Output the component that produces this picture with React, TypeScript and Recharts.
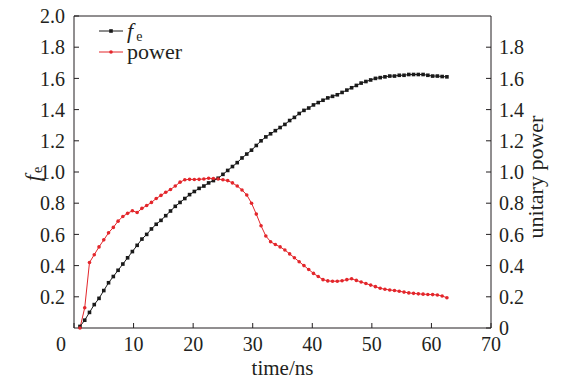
import React from "react";
import { LineChart, Line, XAxis, YAxis, Legend, ReferenceLine } from "recharts";

// time in ns
const time = [
  1.0, 1.8, 2.6, 3.4, 4.2, 5.0, 5.8, 6.6, 7.4, 8.2,
  9.0, 9.8, 10.6, 11.4, 12.2, 13.0, 13.8, 14.6, 15.4, 16.2,
  17.0, 17.8, 18.6, 19.4, 20.2, 21.0, 21.8, 22.6, 23.4, 24.2,
  25.0, 25.8, 26.6, 27.4, 28.2, 29.0, 29.8, 30.6, 31.4, 32.2,
  33.0, 33.8, 34.6, 35.4, 36.2, 37.0, 37.8, 38.6, 39.4, 40.2,
  41.0, 41.8, 42.6, 43.4, 44.2, 45.0, 45.8, 46.6, 47.4, 48.2,
  49.0, 49.8, 50.6, 51.4, 52.2, 53.0, 53.8, 54.6, 55.4, 56.2,
  57.0, 57.8, 58.6, 59.4, 60.2, 61.0, 61.8, 62.6,
];

const fe = [
  0.01, 0.05, 0.1, 0.15, 0.19, 0.24, 0.29, 0.33, 0.37, 0.41,
  0.45, 0.49, 0.53, 0.57, 0.6, 0.635, 0.665, 0.69, 0.72, 0.75,
  0.78, 0.805, 0.83, 0.855, 0.875, 0.895, 0.91, 0.93, 0.945, 0.96,
  0.985, 1.01, 1.035, 1.06, 1.09, 1.115, 1.14, 1.17, 1.2, 1.225,
  1.245, 1.265, 1.285, 1.305, 1.33, 1.35, 1.375, 1.395, 1.41, 1.43,
  1.445, 1.46, 1.475, 1.485, 1.495, 1.51, 1.525, 1.54, 1.555, 1.57,
  1.58, 1.59, 1.6, 1.605, 1.61, 1.615, 1.615, 1.62, 1.62, 1.625,
  1.625, 1.625, 1.625, 1.62, 1.615, 1.615, 1.612, 1.61,
];

const power = [
  0.0, 0.13, 0.42, 0.47, 0.52, 0.565, 0.61, 0.645, 0.685, 0.715,
  0.735, 0.752, 0.74, 0.767, 0.785, 0.805, 0.83, 0.85, 0.87, 0.888,
  0.91, 0.935, 0.95, 0.953, 0.952, 0.953, 0.955, 0.96, 0.958, 0.955,
  0.95, 0.945, 0.93, 0.91, 0.885, 0.853, 0.8, 0.73, 0.655, 0.59,
  0.553, 0.535, 0.52, 0.5, 0.475, 0.45, 0.425, 0.4, 0.375, 0.35,
  0.33, 0.31, 0.302, 0.3, 0.3, 0.303, 0.31, 0.316, 0.305, 0.295,
  0.285, 0.275, 0.265, 0.255, 0.248, 0.244, 0.24, 0.236, 0.23, 0.225,
  0.222, 0.219, 0.217, 0.215, 0.214, 0.212, 0.205, 0.194,
];

const xTicks = [0, 10, 20, 30, 40, 50, 60, 70];
const leftTicks = [0.2, 0.4, 0.6, 0.8, 1.0, 1.2, 1.4, 1.6, 1.8, 2.0];
const rightTicks = [0, 0.2, 0.4, 0.6, 0.8, 1.0, 1.2, 1.4, 1.6, 1.8];

const data = time.map((t, i) => ({ t, fe: fe[i], power: power[i] }));

const ink = "#231f20";
const black = "#1a1a1a";
const red = "#e3262b";
const font = "Liberation Serif, serif";
const tickStyle = { fill: ink, fontSize: 20, fontFamily: font };

const XTick = (props: any) => {
  const { x, y, payload } = props;
  const shift = payload.value === 0 ? -13 : 0;
  return (
    <text x={x + shift} y={y} dy="0.71em" textAnchor="middle" fill={ink} fontSize={20} fontFamily={font}>
      {payload.value}
    </text>
  );
};

const LegendBox = () => (
  <div style={{ fontFamily: font, color: ink }}>
    <div style={{ display: "flex", alignItems: "center", height: 20 }}>
      <svg width={24} height={10} style={{ marginRight: 4 }}>
        <line x1={0} y1={5} x2={24} y2={5} stroke={black} strokeWidth={1} />
        <rect x={10.2} y={3.2} width={3.6} height={3.6} fill={black} />
      </svg>
      <span style={{ fontSize: 22, fontStyle: "italic" }}>f</span>
      <span style={{ fontSize: 14, position: "relative", top: 6, marginLeft: 3 }}>e</span>
    </div>
    <div style={{ display: "flex", alignItems: "center", height: 20, marginTop: 1 }}>
      <svg width={24} height={10} style={{ marginRight: 4 }}>
        <line x1={0} y1={5} x2={24} y2={5} stroke={red} strokeWidth={1} />
        <circle cx={12} cy={5} r={1.8} fill={red} />
      </svg>
      <span style={{ fontSize: 22 }}>power</span>
    </div>
  </div>
);

export default function App() {
  return (
    <div style={{ position: "absolute", left: 0, top: 0, background: "#fff" }}>
      <LineChart width={561} height={380} data={data} margin={{ top: 16, right: 0, bottom: 0, left: 0 }}>
        <XAxis
          dataKey="t"
          type="number"
          domain={[0, 70]}
          ticks={xTicks}
          height={52}
          stroke={ink}
          tickSize={-5}
          tickMargin={14}
          tick={<XTick />}
          label={{
            content: (p: any) => {
              const vb = p.viewBox;
              return (
                <text x={vb.x + vb.width / 2} y={vb.y + 40} textAnchor="middle" dominantBaseline="central" fill={ink} fontSize={21} fontFamily={font}>
                  time/ns
                </text>
              );
            },
          }}
        />
        <YAxis
          yAxisId="left"
          domain={[0, 2]}
          ticks={leftTicks}
          width={74}
          stroke={ink}
          tickSize={-5}
          tickMargin={14}
          tick={tickStyle}
          tickFormatter={(v: number) => v.toFixed(1)}
          label={{
            content: (p: any) => {
              const vb = p.viewBox;
              const cx = vb.x + 32;
              const cy = vb.y + vb.height / 2 + 2;
              return (
                <text x={cx} y={cy} transform={`rotate(-90 ${cx} ${cy})`} textAnchor="middle" dominantBaseline="central" fill={ink} fontSize={22} fontFamily={font}>
                  <tspan fontStyle="italic">f</tspan>
                  <tspan fontSize={14} dx={2} dy={5}>e</tspan>
                </text>
              );
            },
          }}
        />
        <YAxis
          yAxisId="right"
          orientation="right"
          domain={[0, 2]}
          ticks={rightTicks}
          width={70}
          stroke={ink}
          tickSize={-5}
          tickMargin={13}
          tick={tickStyle}
          tickFormatter={(v: number) => (v === 0 ? "0" : v.toFixed(1))}
          label={{
            content: (p: any) => {
              const vb = p.viewBox;
              const cx = vb.x + 44;
              const cy = vb.y + vb.height / 2 + 5;
              return (
                <text x={cx} y={cy} transform={`rotate(-90 ${cx} ${cy})`} textAnchor="middle" dominantBaseline="central" fill={ink} fontSize={22} fontFamily={font}>
                  unitary power
                </text>
              );
            },
          }}
        />
        <ReferenceLine yAxisId="left" y={2} stroke={ink} strokeWidth={1} />
        <Legend
          layout="vertical"
          align="center"
          verticalAlign="middle"
          content={<LegendBox />}
          wrapperStyle={{ top: 21, left: 99, width: 120 }}
        />
        <Line
          yAxisId="left"
          type="linear"
          dataKey="fe"
          stroke={black}
          strokeWidth={1}
          isAnimationActive={false}
          dot={(p: any) => (
            <rect key={`fe-${p.index}`} x={p.cx - 1.8} y={p.cy - 1.8} width={3.6} height={3.6} fill={black} />
          )}
          activeDot={false}
        />
        <Line
          yAxisId="right"
          type="linear"
          dataKey="power"
          stroke={red}
          strokeWidth={1}
          isAnimationActive={false}
          dot={(p: any) => <circle key={`pw-${p.index}`} cx={p.cx} cy={p.cy} r={1.8} fill={red} />}
          activeDot={false}
        />
      </LineChart>
    </div>
  );
}
